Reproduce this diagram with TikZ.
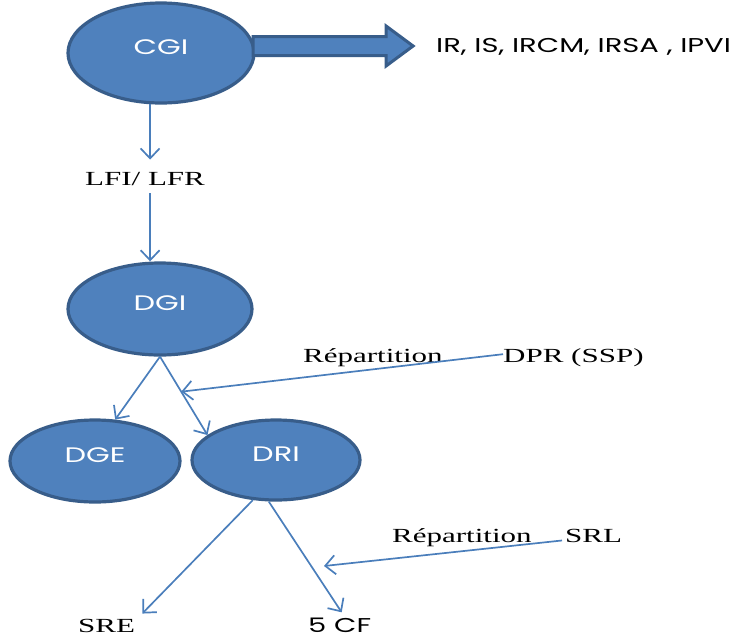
\documentclass[tikz,border=0pt]{standalone}
\usepackage{fontspec}
\setmainfont{Liberation Serif}[FakeStretch=1.55]
\newfontfamily\gothique{Poppins}[FakeStretch=1.45]
\usetikzlibrary{arrows.meta,shapes.geometric,shapes.arrows}
\definecolor{bleu}{HTML}{4F81BD}
\definecolor{bord}{HTML}{385D8A}
\definecolor{trait}{HTML}{4A7EBB}
\begin{document}
\begin{tikzpicture}[x=1pt,y=-1pt,
  ell/.style={ellipse,fill=bleu,draw=bord,line width=3.2pt,inner sep=0pt,
    text=white,font=\gothique\fontsize{21}{21}\selectfont,text depth=12pt},
  texte/.style={inner sep=0pt,font=\fontsize{20}{20}\selectfont},
  fleche/.style={draw=trait,line width=1.7pt,-{Straight Barb[length=10pt,width=19pt,line width=1.7pt]}},
  grosse/.style={single arrow,fill=bleu,draw=bord,line width=3pt,inner sep=0pt,
    text height=8pt,text depth=8pt,
    minimum height=160pt,minimum width=37pt,single arrow head extend=10.5pt,
    single arrow tip angle=73}]

\useasboundingbox (0,0) rectangle (747,638);

\node[ell,minimum width=186pt,minimum height=100pt] (cgi) at (161,53) {CGI};
\node[ell,minimum width=184pt,minimum height=92pt] (dgi) at (160,309) {DGI};
\node[ell,minimum width=170pt,minimum height=82pt] (dge) at (95,461) {DGE};
\node[ell,minimum width=168pt,minimum height=80pt] (dri) at (276,460) {DRI};

\node[grosse,anchor=tail] (fleche) at ([shift={(-4pt,7pt)}]cgi.east) {};
\node[texte,anchor=base west,font=\gothique\fontsize{20}{20}\selectfont] (impots) at (436,52) {IR, IS, IRCM, IRSA , IPVI};

\node[texte,anchor=base west] (lfi) at (85,185) {LFI/ LFR};
\node[texte,anchor=base west] (rep1) at (303,362) {Répartition};
\node[texte,anchor=base west] (dpr) at (503,362) {DPR (SSP)};
\node[texte,anchor=base west] (rep2) at (392,542) {Répartition};
\node[texte,anchor=base west] (srl) at (565,542) {SRL};
\node[texte,anchor=base west] (sre) at (78,632) {SRE};
\node[texte,anchor=base west,font=\gothique\fontsize{20}{20}\selectfont] (cf) at (308,632) {5 CF};
\coordinate (pointsrl) at (324,566);

\draw[fleche,shorten >=12pt] (cgi.258) -- (lfi.north -| cgi.258);
\draw[fleche,shorten <=8pt] (lfi.south -| cgi.258) -- (dgi.north -| cgi.258);
\draw[fleche] (dgi.south) -- (dge.64);
\draw[fleche] (dgi.south) -- coordinate[pos=0.447] (pointdpr) (dri.160);
\draw[fleche] ([yshift=3pt]dpr.west) -- (pointdpr);
\draw[fleche] (dri.240) -- ([shift={(7pt,5pt)}]sre.north east);
\draw[fleche] (dri.260) -- ([shift={(2pt,5pt)}]cf.north);
\draw[fleche] ([shift={(-3pt,-5pt)}]srl.west) -- (pointsrl);
\end{tikzpicture}
\end{document}
